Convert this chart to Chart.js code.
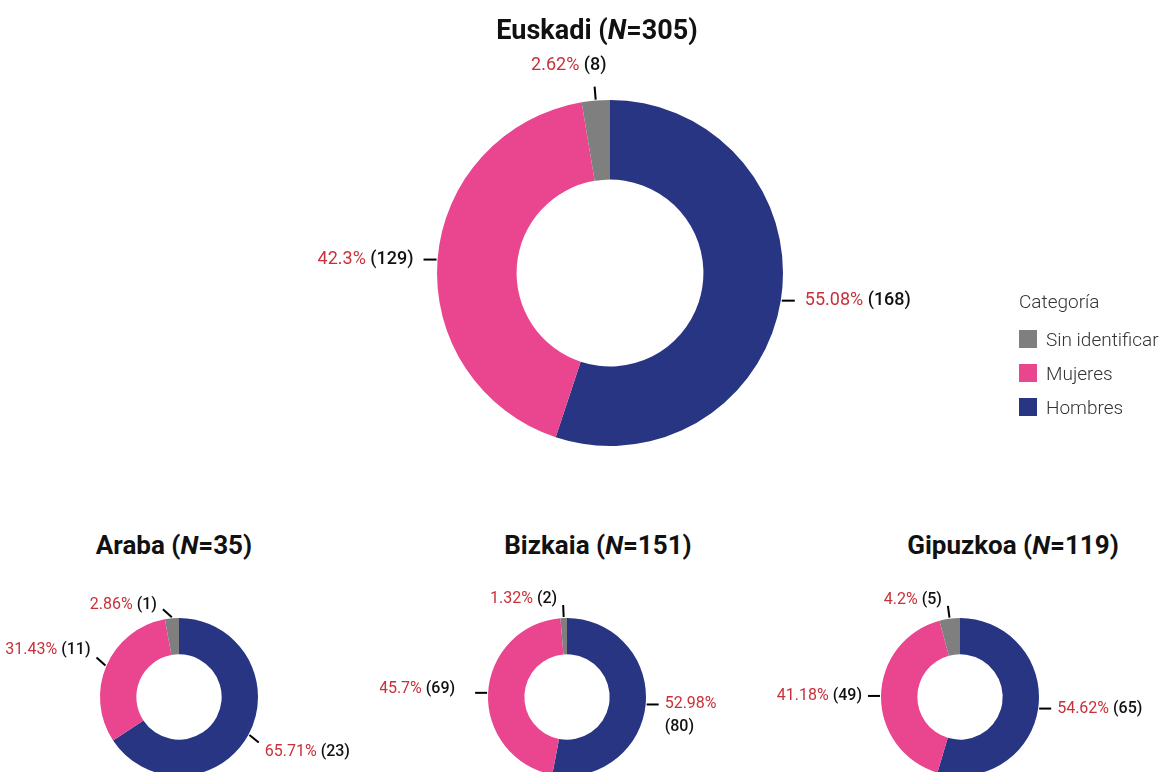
<!DOCTYPE html>
<html lang="es">
<head>
<meta charset="utf-8">
<title>Distribución por sexo</title>
<script src="https://cdn.jsdelivr.net/npm/chart.js@4.4.1/dist/chart.umd.min.js"></script>
<style>
  html, body { margin: 0; padding: 0; background: #fff; width: 1163px; height: 772px; overflow: hidden; font-family: Roboto, sans-serif; }
  canvas { position: absolute; }
  .title { position: absolute; transform: translateX(-50%); white-space: nowrap; font-weight: 700; color: #111; }
  .title.big { font-size: 27px; }
  .title.small { font-size: 26px; }
  .legend { position: absolute; left: 1019px; top: 290px; color: #333; font-size: 19px; font-weight: 300; }
  .legend .head { height: 24px; line-height: 24px; margin-bottom: 16px; }
  .legend .item { display: flex; align-items: center; height: 18px; margin-bottom: 16px; }
  .legend .sw { width: 18px; height: 18px; margin-right: 9px; }
</style>
</head>
<body>
<canvas id="c-euskadi" width="1163" height="470" style="left:0;top:0"></canvas>
<canvas id="c-araba" width="380" height="230" style="left:0;top:570px"></canvas>
<canvas id="c-bizkaia" width="340" height="230" style="left:380px;top:570px"></canvas>
<canvas id="c-gipuzkoa" width="403" height="230" style="left:760px;top:570px"></canvas>
<div id="titles"></div>
<div class="legend" id="legend"></div>

<script>
// categorías en el orden del anillo (horario desde las 12)
const CATEGORIES = ['Hombres', 'Mujeres', 'Sin identificar'];
const COLORS = ['#283583', '#e9468f', '#7f7f7f'];

const EUSKADI = [168, 129, 8];
const ARABA = [23, 11, 1];
const BIZKAIA = [80, 69, 2];
const GIPUZKOA = [65, 49, 5];

const LEGEND_TITLE = 'Categoría';

// etiquetas con línea guía: "xx.xx% (n)"
const leaderLabels = {
  id: 'leaderLabels',
  afterDatasetsDraw(chart, args, opts) {
    const ctx = chart.ctx;
    const meta = chart.getDatasetMeta(0);
    const data = chart.data.datasets[0].data;
    const total = data.reduce((a, b) => a + b, 0);
    const nudges = opts.nudges || {};
    const len = opts.length, gap = opts.gap, size = opts.size;

    meta.data.forEach((arc, i) => {
      const p = arc.getProps(['x', 'y', 'startAngle', 'endAngle', 'outerRadius'], true);
      const mid = (p.startAngle + p.endAngle) / 2;
      const n = nudges[i] || {};
      const sx = p.x + Math.cos(mid) * (p.outerRadius + 1);
      const sy = p.y + Math.sin(mid) * (p.outerRadius + 1);

      let dir;
      if (n.angle != null) dir = (n.angle - 90) * Math.PI / 180;
      else if (Math.abs(Math.cos(mid)) > 0.9) dir = Math.cos(mid) > 0 ? 0 : Math.PI;
      else dir = mid;
      const ex = sx + Math.cos(dir) * len;
      const ey = sy + Math.sin(dir) * len;

      ctx.save();
      ctx.strokeStyle = '#000';
      ctx.lineWidth = 2;
      ctx.beginPath();
      ctx.moveTo(sx, sy);
      ctx.lineTo(ex, ey);
      ctx.stroke();

      const pct = Number((data[i] / total * 100).toFixed(2)) + '%';
      const cnt = '(' + data[i] + ')';
      const pctFont = '400 ' + size + 'px Roboto, sans-serif';
      const cntFont = '500 ' + size + 'px Roboto, sans-serif';
      ctx.font = pctFont;
      const wp = ctx.measureText(pct + ' ').width;
      ctx.font = cntFont;
      const wc = ctx.measureText(cnt).width;

      const right = Math.cos(dir) >= 0;
      let x = right ? ex + gap : ex - gap - wp - wc;
      let y = ey + (Math.abs(Math.sin(dir)) > 0.1 ? Math.sin(dir) * 6 : 0);
      x += n.dx || 0;
      y += n.dy || 0;

      ctx.textBaseline = 'middle';
      ctx.textAlign = 'left';
      const wrap = right && x + wp + wc > chart.width - 2;
      ctx.font = pctFont;
      ctx.fillStyle = '#c8303a';
      ctx.fillText(pct, x, y);
      ctx.font = cntFont;
      ctx.fillStyle = '#111';
      if (wrap) ctx.fillText(cnt, x, y + size * 1.4);
      else ctx.fillText(cnt, x + wp, y);
      ctx.restore();
    });
  }
};

function makeDonut(id, values, padding, labelOpts) {
  return new Chart(document.getElementById(id), {
    type: 'doughnut',
    data: {
      labels: CATEGORIES,
      datasets: [{ data: values, backgroundColor: COLORS, borderWidth: 0, hoverOffset: 0 }]
    },
    options: {
      responsive: false,
      animation: false,
      cutout: '54%',
      layout: { padding },
      events: [],
      plugins: {
        legend: { display: false },
        tooltip: { enabled: false },
        leaderLabels: labelOpts
      }
    },
    plugins: [leaderLabels]
  });
}

makeDonut('c-euskadi', EUSKADI, { top: 100, bottom: 24, left: 437, right: 380 },
  { length: 13, gap: 10, size: 18, nudges: { 2: { dx: 22, dy: -15 } } });
makeDonut('c-araba', ARABA, { top: 48, bottom: 24, left: 100, right: 122 },
  { length: 12, gap: 6, size: 16, nudges: { 0: { angle: 129, dy: 6 }, 1: { angle: 312, dy: -4 }, 2: { angle: 312 } } });
makeDonut('c-bizkaia', BIZKAIA, { top: 48, bottom: 24, left: 108, right: 74 },
  { length: 12, gap: 6, size: 16, nudges: { 1: { dx: -14, dy: -4 } } });
makeDonut('c-gipuzkoa', GIPUZKOA, { top: 48, bottom: 24, left: 121, right: 124 },
  { length: 12, gap: 6, size: 16 });

// títulos
const titles = [
  ['Euskadi', EUSKADI, 597, 14, 'big'],
  ['Araba', ARABA, 174, 530, 'small'],
  ['Bizkaia', BIZKAIA, 598, 530, 'small'],
  ['Gipuzkoa', GIPUZKOA, 1013, 530, 'small']
];
const tBox = document.getElementById('titles');
titles.forEach(([name, vals, cx, top, cls]) => {
  const d = document.createElement('div');
  d.className = 'title ' + cls;
  d.style.left = cx + 'px';
  d.style.top = top + 'px';
  d.innerHTML = name + ' (<i>N</i>=' + vals.reduce((a, b) => a + b, 0) + ')';
  tBox.appendChild(d);
});

// leyenda (orden inverso al del anillo)
const leg = document.getElementById('legend');
leg.innerHTML = '<div class="head">' + LEGEND_TITLE + '</div>';
CATEGORIES.map((c, i) => i).reverse().forEach(i => {
  leg.innerHTML += '<div class="item"><span class="sw" style="background:' + COLORS[i] + '"></span>' + CATEGORIES[i] + '</div>';
});
</script>
</body>
</html>
